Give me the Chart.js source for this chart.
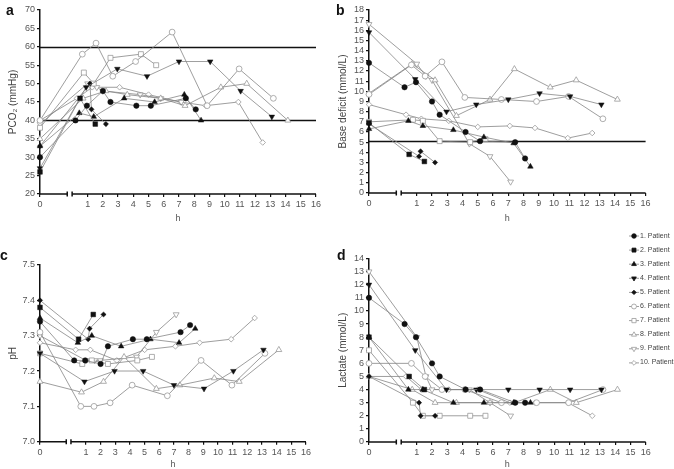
<!DOCTYPE html>
<html>
<head>
<meta charset="utf-8">
<script src="https://cdn.jsdelivr.net/npm/chart.js@4/dist/chart.umd.min.js"></script>
<style>
  body { margin: 0; background: #fff; }
  #page { position: relative; width: 674px; height: 469px; overflow: hidden; font-family: "Liberation Sans", Arial, sans-serif; }
  #page canvas { position: absolute; }
  .letter { position: absolute; font-weight: bold; font-size: 14px; line-height: 14px; color: #111; }
  .leg { position: absolute; left: 640px; font-size: 7px; line-height: 8px; color: #444; white-space: nowrap; }
</style>
</head>
<body>
<div id="page">
  <canvas id="pa" width="330" height="230" style="left:0;top:0"></canvas>
  <canvas id="pb" width="344" height="230" style="left:330px;top:0"></canvas>
  <canvas id="pc" width="330" height="239" style="left:0;top:230px"></canvas>
  <canvas id="pd" width="344" height="239" style="left:330px;top:230px"></canvas>
  <canvas id="legMarks" width="16" height="145" style="left:626px;top:229px"></canvas>
  <div class="letter" style="left:6px;top:3px">a</div>
  <div class="letter" style="left:336px;top:3px">b</div>
  <div class="letter" style="left:0;top:248px">c</div>
  <div class="letter" style="left:337px;top:248px">d</div>
  <div id="legend"></div>
</div>
<script>
// hour 0 is drawn left of the axis break, the rest of the axis is linear
const ZERO_POS = -2.13;
const BREAK_AT = [-0.34, -0.02];
const hourTicks = [0, 1, 2, 3, 4, 5, 6, 7, 8, 9, 10, 11, 12, 13, 14, 15, 16];

const patients = ['1. Patient', '2. Patient', '3. Patient', '4. Patient', '5. Patient',
                  '6. Patient', '7. Patient', '8. Patient', '9. Patient', '10. Patient'];

// sampling times (h) per patient
const hours = [
  [0, 0.2, 0.95, 2, 2.5, 4.2, 5.15, 7.45, 8.1],
  [0, 0.5, 1.5],
  [0, 0.45, 1.4, 3.4, 5.4, 7.35, 8.45],
  [0, 0.9, 2.95, 4.9, 7.0, 9.05, 11.05, 13.1],
  [0, 1.15, 1.25, 2.2],
  [0, 0.65, 1.55, 2.65, 4.15, 6.55, 8.85, 10.95, 13.2],
  [0, 0.75, 1.4, 2.5, 4.5, 5.5],
  [0, 0.7, 2.2, 3.6, 5.8, 7.4, 9.75, 11.45, 14.15],
  [0, 1, 1.6, 2, 4.45, 5.8, 7.15],
  [0, 0.3, 1.3, 3.1, 5.0, 7.1, 8.75, 10.9, 12.5]
];

const pco2 = [
  [30, 40, 44, 48, 45, 44, 44, 46, 43],
  [26, 46, 39],
  [33, 42, 41, 46, 45, 47, 40],
  [27, 49, 54, 52, 56, 56, 48, 41],
  [33, 50, 43, 39],
  [40, 58, 61, 52, 56, 64, 44, 54, 46],
  [38, 53, 50, 57, 58, 55],
  [35, 46, 48, 47, 46, 44, 49, 50, 40],
  [39, 50, 49, 48, 47, 46, 45],
  [40, 46, 49, 49, 47, 45, 44, 45, 34]
];

const baseDeficit = [
  [12.8, 10.4, 10.9, 9.0, 7.7, 6.0, 5.1, 5.0, 3.4],
  [6.9, 3.8, 3.1],
  [6.3, 7.1, 6.6, 6.2, 5.5, 4.9, 2.6],
  [15.8, 11.2, 8.0, 8.7, 9.2, 9.8, 9.5, 8.7],
  [6.8, 3.6, 4.1, 3.0],
  [9.7, 12.6, 11.5, 12.9, 9.4, 9.2, 9.0, 9.5, 7.3],
  [7.0, 7.2, 7.1, 5.1, 5.0, 5.3],
  [9.8, 12.7, 11.1, 7.6, 9.2, 12.2, 10.4, 11.1, 9.2],
  [16.6, 12.7, 11.5, 11.1, 4.85, 3.6, 1.1],
  [8.7, 7.7, 7.3, 7.1, 6.5, 6.6, 6.4, 5.4, 5.9]
];

const ph = [
  [7.34, 7.23, 7.23, 7.22, 7.27, 7.29, 7.29, 7.31, 7.33],
  [7.38, 7.29, 7.36],
  [7.35, 7.28, 7.30, 7.27, 7.29, 7.28, 7.32],
  [7.25, 7.17, 7.20, 7.20, 7.16, 7.15, 7.20, 7.26],
  [7.40, 7.29, 7.32, 7.36],
  [7.31, 7.10, 7.10, 7.11, 7.16, 7.13, 7.23, 7.16, 7.25],
  [7.25, 7.22, 7.23, 7.22, 7.23, 7.24],
  [7.17, 7.14, 7.17, 7.24, 7.15, 7.16, 7.18, 7.17, 7.26],
  [7.30, 7.23, 7.23, 7.23, 7.24, 7.31, 7.36],
  [7.28, 7.26, 7.26, 7.23, 7.26, 7.27, 7.28, 7.29, 7.35]
];

const lactate = [
  [11, 9, 8, 6, 5, 4, 4, 3, 3],
  [8, 5, 4],
  [8, 4, 4, 3, 3, 3, 3],
  [12, 7, 4, 4, 4, 4, 4, 4],
  [5, 3, 2, 2],
  [6, 6, 5, 4, 4, 3, 3, 3, 4],
  [7, 3, 2, 2, 2, 2],
  [5, 4, 3, 3, 3, 3, 4, 3, 4],
  [13, 8, 5, 4, 4, 3, 2],
  [5, 5, 4, 4, 4, 3, 3, 3, 2]
];

const pco2Limits = [40, 60];
const bdLimits = [5.1];

// marker per patient: 1-5 filled black, 6-10 open grey
const markers = [
  { style: 'circle', rot: 0, r: 2.7 },
  { style: 'rect', rot: 0, r: 3.3 },
  { style: 'triangle', rot: 0, r: 3.2 },
  { style: 'triangle', rot: 180, r: 3.2 },
  { style: 'rectRot', rot: 0, r: 2.6 },
  { style: 'circle', rot: 0, r: 2.9 },
  { style: 'rect', rot: 0, r: 3.5 },
  { style: 'triangle', rot: 0, r: 3.4 },
  { style: 'triangle', rot: 180, r: 3.4 },
  { style: 'rectRot', rot: 0, r: 2.8 }
];

const LINE = '#858585';
const OPEN = '#9a9a9a';
const FONT = "'Liberation Sans', Arial, sans-serif";

const axisBreak = {
  id: 'axisBreak',
  beforeDatasetsDraw(chart, args, opts) {
    const { ctx, chartArea: a, scales: { y } } = chart;
    ctx.save();
    ctx.strokeStyle = '#111';
    ctx.lineWidth = 1.3;
    (opts.lines || []).forEach(v => {
      const py = Math.round(y.getPixelForValue(v)) + 0.5;
      ctx.beginPath();
      ctx.moveTo(a.left, py);
      ctx.lineTo(a.right, py);
      ctx.stroke();
    });
    ctx.restore();
  },
  afterDraw(chart) {
    const { ctx, chartArea: a, scales: { x } } = chart;
    const b0 = x.getPixelForValue(BREAK_AT[0]);
    const b1 = x.getPixelForValue(BREAK_AT[1]);
    const yb = a.bottom;
    ctx.save();
    ctx.strokeStyle = '#111';
    ctx.lineWidth = 1.5;
    ctx.beginPath();
    ctx.moveTo(a.left, yb); ctx.lineTo(b0, yb);
    ctx.moveTo(b1, yb); ctx.lineTo(a.right, yb);
    ctx.moveTo(b0, yb - 2.5); ctx.lineTo(b0, yb + 2.5);
    ctx.moveTo(b1, yb - 2.5); ctx.lineTo(b1, yb + 2.5);
    ctx.stroke();
    ctx.restore();
  }
};

function makePanel(id, values, p) {
  const datasets = values.map((vals, i) => {
    const m = markers[i];
    const filled = i < 5;
    return {
      label: patients[i],
      data: hours[i].map((h, j) => ({ x: h === 0 ? ZERO_POS : h, y: vals[j] })),
      showLine: true,
      borderColor: LINE,
      borderWidth: 0.8,
      pointStyle: m.style,
      rotation: m.rot,
      pointRadius: m.r,
      pointBackgroundColor: filled ? '#111' : '#fff',
      pointBorderColor: filled ? '#111' : OPEN,
      pointBorderWidth: filled ? 0.5 : 0.8,
      clip: false
    };
  });

  new Chart(document.getElementById(id), {
    type: 'scatter',
    data: { datasets },
    plugins: [axisBreak],
    options: {
      responsive: false,
      animation: false,
      devicePixelRatio: 1,
      events: [],
      layout: { padding: { left: 0, top: p.top, right: p.right, bottom: 0 } },
      plugins: {
        legend: { display: false },
        tooltip: { enabled: false },
        axisBreak: { lines: p.lines || [] }
      },
      scales: {
        x: {
          type: 'linear',
          min: ZERO_POS,
          max: 16,
          afterBuildTicks: s => { s.ticks = hourTicks.map(h => ({ value: h === 0 ? ZERO_POS : h })); },
          afterFit: s => { s.height = p.xh; },
          ticks: {
            autoSkip: false, maxRotation: 0, padding: 2,
            color: '#555', font: { family: FONT, size: 9 },
            callback: (v, i) => hourTicks[i]
          },
          grid: { drawOnChartArea: false, tickLength: 3, color: '#111', lineWidth: 1.2 },
          border: { display: false },
          title: {
            display: true, text: 'h', color: '#555',
            font: { family: FONT, size: 9, lineHeight: 1 },
            padding: { top: 0, bottom: p.hPad }
          }
        },
        y: {
          min: p.min,
          max: p.max,
          afterFit: s => { s.width = p.yw; },
          ticks: {
            stepSize: p.step, padding: 2, autoSkip: false,
            color: '#555', font: { family: FONT, size: 9 },
            callback: v => p.dec ? v.toFixed(p.dec) : v
          },
          grid: { drawOnChartArea: false, tickLength: 3, color: '#111', lineWidth: 1.2 },
          border: { display: true, color: '#111', width: 1.5 },
          title: {
            display: true, text: p.title, color: '#444',
            font: { family: FONT, size: 10, lineHeight: 1.2 },
            padding: { top: 7, bottom: 0 }
          }
        }
      }
    }
  });
}

makePanel('pa', pco2, { title: 'PCO\u2082 (mmHg)', min: 20, max: 70, step: 5, top: 10, right: 14, yw: 40, xh: 36, hPad: 7, lines: pco2Limits });
makePanel('pb', baseDeficit, { title: 'Base deficit (mmol/L)', min: 0, max: 18, step: 1, top: 10, right: 28.4, yw: 39, xh: 37, hPad: 7, lines: bdLimits });
makePanel('pc', ph, { title: 'pH', min: 7.0, max: 7.5, step: 0.1, dec: 1, top: 35, right: 24, yw: 40, xh: 27.3, hPad: 0 });
makePanel('pd', lactate, { title: 'Lactate (mmol/L)', min: 0, max: 14, step: 1, top: 28.5, right: 28.3, yw: 39, xh: 27, hPad: 0 });

// legend: line + marker drawn on a small canvas, labels as text
(function legend() {
  const cv = document.getElementById('legMarks');
  const ctx = cv.getContext('2d');
  const box = document.getElementById('legend');
  const top0 = 236, gap = 14.1;
  patients.forEach((name, i) => {
    const cy = top0 + gap * i - 229;
    const m = markers[i];
    const filled = i < 5;
    ctx.strokeStyle = LINE;
    ctx.lineWidth = 0.8;
    ctx.beginPath();
    ctx.moveTo(3, cy); ctx.lineTo(13, cy);
    ctx.stroke();
    ctx.fillStyle = filled ? '#111' : '#fff';
    ctx.strokeStyle = filled ? '#111' : OPEN;
    Chart.helpers.drawPoint(ctx, {
      pointStyle: m.style, rotation: m.rot, radius: m.r * 0.85,
      borderWidth: filled ? 0.5 : 0.8
    }, 8, cy);
    const t = document.createElement('div');
    t.className = 'leg';
    t.style.top = (top0 + gap * i - 4.5) + 'px';
    t.textContent = name;
    box.appendChild(t);
  });
})();
</script>
</body>
</html>
